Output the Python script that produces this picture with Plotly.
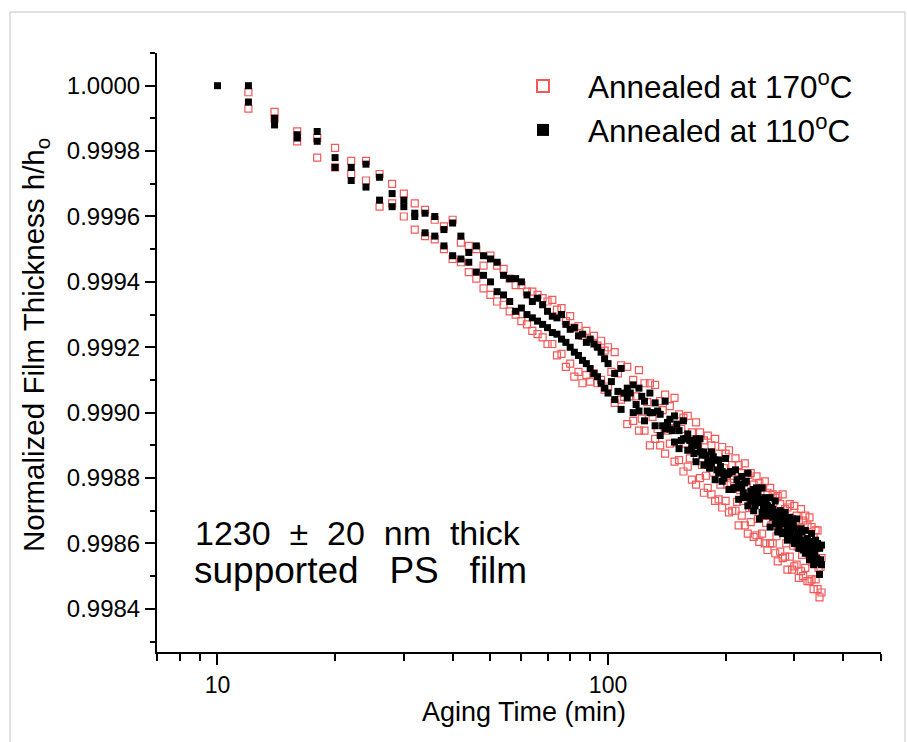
import plotly.graph_objects as go

# Aging times (min) at which the paired measurements were read
times = [12, 14, 16, 18, 20, 22, 24, 26, 28, 30, 32, 34, 36, 38, 40, 42, 44, 46, 48, 50,
         52, 54, 56, 58, 60, 62, 64, 66, 68, 70, 72, 74, 76, 78, 80, 82, 84, 86, 88, 90,
         92, 94, 96, 98, 100,
         104, 108, 112, 116, 120, 124, 128, 132, 136, 140, 144, 148, 152, 156, 160, 164,
         168, 172, 176, 180, 184, 188, 192, 196, 200, 204, 208, 212, 216, 220, 224, 228,
         232, 236, 240, 244, 248, 252, 256, 260, 264, 268, 272, 276, 280, 284, 288, 292,
         296, 300, 304, 308, 312, 316, 320, 324, 328, 332, 336, 340, 344, 348, 352]
# intermediate readings at later times
times_mid = [102, 106, 110, 114, 118, 122, 126, 130, 134, 138, 142, 146, 150, 154, 158, 162,
             166, 170, 174, 178, 182, 186, 190, 194, 198, 202, 206, 210, 214, 218, 222, 226,
             230, 234, 238, 242, 246, 250, 254, 258, 262, 266, 270, 274, 278, 282, 286, 290,
             294, 298, 302, 306, 310, 314, 318, 322, 326, 330, 334, 338, 342, 346, 350]

# Annealed at 170 C (open red squares)
red_hi = [0.999980, 0.999920, 0.999860, 0.999840, 0.999810, 0.999770, 0.999770, 0.999730, 0.999700, 0.999670,
          0.999640, 0.999620, 0.999590, 0.999570, 0.999590, 0.999520, 0.999510, 0.999500, 0.999450, 0.999480,
          0.999450, 0.999440, 0.999410, 0.999390, 0.999390, 0.999370, 0.999370, 0.999360, 0.999350, 0.999340,
          0.999345, 0.999315, 0.999320, 0.999280, 0.999295, 0.999260, 0.999265, 0.999235, 0.999250, 0.999220,
          0.999235, 0.999205, 0.999220, 0.999190, 0.999200,
          0.999185, 0.999145, 0.999140, 0.999100, 0.999130, 0.999090, 0.999090, 0.999085, 0.999035, 0.999055,
          0.999020, 0.999045, 0.998995, 0.998985, 0.998990, 0.998940, 0.998970, 0.998940, 0.998915, 0.998930,
          0.998900, 0.998920, 0.998875, 0.998895, 0.998875, 0.998885, 0.998840, 0.998860, 0.998840, 0.998815,
          0.998845, 0.998810, 0.998815, 0.998780, 0.998805, 0.998785, 0.998770, 0.998790, 0.998755, 0.998770,
          0.998750, 0.998740, 0.998745, 0.998720, 0.998750, 0.998705, 0.998710, 0.998720, 0.998675, 0.998715,
          0.998685, 0.998670, 0.998705, 0.998670, 0.998685, 0.998655, 0.998680, 0.998650, 0.998620, 0.998640,
          0.998640, 0.998590, 0.998555]
red_lo = [0.999930, 0.999900, 0.999830, 0.999780, 0.999750, 0.999730, 0.999710, 0.999630, 0.999640, 0.999600,
          0.999560, 0.999540, 0.999530, 0.999500, 0.999470, 0.999460, 0.999430, 0.999410, 0.999380, 0.999360,
          0.999340, 0.999330, 0.999310, 0.999300, 0.999280, 0.999270, 0.999250, 0.999240, 0.999230, 0.999210,
          0.999210, 0.999175, 0.999180, 0.999140, 0.999150, 0.999110, 0.999125, 0.999090, 0.999115, 0.999095,
          0.999120, 0.999090, 0.999100, 0.999070, 0.999080,
          0.999030, 0.999040, 0.998965, 0.998975, 0.998945, 0.998945, 0.998900, 0.998920, 0.998900, 0.998875,
          0.998905, 0.998850, 0.998855, 0.998820, 0.998835, 0.998795, 0.998780, 0.998800, 0.998755, 0.998770,
          0.998750, 0.998730, 0.998735, 0.998710, 0.998730, 0.998695, 0.998700, 0.998700, 0.998655, 0.998685,
          0.998655, 0.998630, 0.998665, 0.998620, 0.998625, 0.998605, 0.998630, 0.998600, 0.998580, 0.998600,
          0.998600, 0.998570, 0.998545, 0.998575, 0.998555, 0.998560, 0.998520, 0.998560, 0.998520, 0.998530,
          0.998535, 0.998495, 0.998515, 0.998500, 0.998525, 0.998485, 0.998485, 0.998490, 0.998460, 0.998490,
          0.998460, 0.998435, 0.998450]
red_mid = [0.999125, 0.999120, 0.999048, 0.999050, 0.999050, 0.998982, 0.999032, 0.998987, 0.998950, 0.999008,
           0.998945, 0.998953, 0.998908, 0.998950, 0.998905, 0.998860, 0.998890, 0.998895, 0.998840, 0.998807,
           0.998857, 0.998817, 0.998835, 0.998780, 0.998830, 0.998780, 0.998785, 0.998797, 0.998727, 0.998763,
           0.998730, 0.998773, 0.998708, 0.998712, 0.998725, 0.998675, 0.998730, 0.998690, 0.998663, 0.998695,
           0.998655, 0.998695, 0.998622, 0.998658, 0.998637, 0.998662, 0.998600, 0.998640, 0.998620, 0.998593,
           0.998648, 0.998590, 0.998608, 0.998565, 0.998612, 0.998582, 0.998570, 0.998605, 0.998543, 0.998575,
           0.998550, 0.998525, 0.998528]

# Annealed at 110 C (filled black squares)
black_first_t = [10]
black_first_v = [1.000000]
black_hi = [1.000000, 0.999900, 0.999850, 0.999860, 0.999780, 0.999750, 0.999760, 0.999720, 0.999670, 0.999650,
            0.999610, 0.999610, 0.999600, 0.999560, 0.999580, 0.999540, 0.999490, 0.999510, 0.999480, 0.999470,
            0.999460, 0.999420, 0.999410, 0.999410, 0.999400, 0.999360, 0.999340, 0.999350, 0.999330, 0.999310,
            0.999295, 0.999290, 0.999300, 0.999270, 0.999255, 0.999260, 0.999235, 0.999240, 0.999215, 0.999225,
            0.999210, 0.999200, 0.999185, 0.999165, 0.999150,
            0.999120, 0.999135, 0.999075, 0.999085, 0.999075, 0.999035, 0.999060, 0.999030, 0.998995, 0.999035,
            0.998980, 0.998990, 0.998945, 0.998975, 0.998935, 0.998905, 0.998920, 0.998920, 0.998880, 0.998855,
            0.998880, 0.998855, 0.998855, 0.998820, 0.998860, 0.998815, 0.998820, 0.998825, 0.998780, 0.998805,
            0.998785, 0.998815, 0.998760, 0.998765, 0.998770, 0.998735, 0.998770, 0.998740, 0.998715, 0.998740,
            0.998705, 0.998730, 0.998675, 0.998700, 0.998685, 0.998695, 0.998655, 0.998680, 0.998660, 0.998645,
            0.998675, 0.998630, 0.998645, 0.998610, 0.998640, 0.998615, 0.998605, 0.998630, 0.998590, 0.998610,
            0.998600, 0.998585, 0.998595]
black_lo = [0.999950, 0.999880, 0.999840, 0.999830, 0.999750, 0.999710, 0.999690, 0.999650, 0.999630, 0.999630,
            0.999600, 0.999550, 0.999540, 0.999510, 0.999480, 0.999470, 0.999460, 0.999430, 0.999420, 0.999400,
            0.999370, 0.999360, 0.999340, 0.999310, 0.999320, 0.999300, 0.999290, 0.999280, 0.999270, 0.999260,
            0.999245, 0.999240, 0.999225, 0.999215, 0.999200, 0.999185, 0.999175, 0.999160, 0.999150, 0.999135,
            0.999120, 0.999110, 0.999090, 0.999075, 0.999060,
            0.999040, 0.999010, 0.999045, 0.999000, 0.999005, 0.998975, 0.999000, 0.998960, 0.998930, 0.998950,
            0.998950, 0.998910, 0.998890, 0.998920, 0.998885, 0.998890, 0.998850, 0.998880, 0.998840, 0.998840,
            0.998845, 0.998795, 0.998815, 0.998790, 0.998815, 0.998765, 0.998765, 0.998770, 0.998735, 0.998770,
            0.998740, 0.998715, 0.998730, 0.998700, 0.998730, 0.998675, 0.998695, 0.998685, 0.998695, 0.998650,
            0.998680, 0.998660, 0.998635, 0.998675, 0.998630, 0.998635, 0.998610, 0.998635, 0.998615, 0.998600,
            0.998620, 0.998585, 0.998600, 0.998580, 0.998570, 0.998575, 0.998550, 0.998580, 0.998535, 0.998540,
            0.998550, 0.998505, 0.998535]
black_mid = [0.999095, 0.999065, 0.999060, 0.999060, 0.999025, 0.999050, 0.999005, 0.999000, 0.999005, 0.998960,
             0.998970, 0.998945, 0.998965, 0.998915, 0.998920, 0.998915, 0.998875, 0.998900, 0.998870, 0.998870,
             0.998830, 0.998865, 0.998825, 0.998835, 0.998800, 0.998810, 0.998820, 0.998770, 0.998795, 0.998775,
             0.998755, 0.998790, 0.998745, 0.998750, 0.998715, 0.998750, 0.998725, 0.998710, 0.998730, 0.998685,
             0.998710, 0.998685, 0.998695, 0.998650, 0.998660, 0.998680, 0.998665, 0.998630, 0.998640, 0.998660,
             0.998615, 0.998625, 0.998610, 0.998635, 0.998585, 0.998595, 0.998605, 0.998565, 0.998590, 0.998575,
             0.998555, 0.998590, 0.998550]

y_ticks = [0.9984, 0.9986, 0.9988, 0.9990, 0.9992, 0.9994, 0.9996, 0.9998, 1.0000]
y_minor = [0.9983, 0.9985, 0.9987, 0.9989, 0.9991, 0.9993, 0.9995, 0.9997, 0.9999, 1.0001]
x_ticks = [10, 100]
x_minor = [7, 8, 9, 20, 30, 40, 50, 60, 70, 80, 90, 200, 300, 400, 500]

FONT = "Liberation Sans, Arial, sans-serif"

fig = go.Figure()
fig.add_trace(go.Scatter(
    x=times + times + times_mid, y=red_hi + red_lo + red_mid, mode="markers",
    name="Annealed at 170<sup>o</sup>C",
    marker=dict(symbol="square-open", size=7, color="#f25a5a", line=dict(width=1.2, color="#f25a5a")),
))
fig.add_trace(go.Scatter(
    x=black_first_t + times + times + times_mid,
    y=black_first_v + black_hi + black_lo + black_mid, mode="markers",
    name="Annealed at 110<sup>o</sup>C",
    marker=dict(symbol="square", size=7, color="black", line=dict(width=0)),
))

PL, PR, PT, PB = 157, 881, 53, 652
def px(x):
    return (x - PL) / (PR - PL)
def py(y):
    return (PB - y) / (PB - PT)

fig.update_layout(
    width=907, height=742,
    margin=dict(l=PL, r=907 - PR, t=PT, b=742 - PB),
    paper_bgcolor="white", plot_bgcolor="white",
    font=dict(family=FONT, color="black"),
    showlegend=True,
    legend=dict(x=px(498), y=py(59), xanchor="left", yanchor="top",
                font=dict(size=31.5, family=FONT), bgcolor="rgba(0,0,0,0)",
                itemsizing="constant", itemwidth=80),
    xaxis=dict(type="log", range=[0.845098, 2.69897],
               tickmode="array", tickvals=x_ticks, ticktext=["10", "100"],
               ticks="outside", ticklen=11, tickwidth=2, tickcolor="black",
               showline=True, linewidth=2, linecolor="black",
               showgrid=False, zeroline=False,
               tickfont=dict(size=23, family=FONT),
               minor=dict(tickvals=x_minor, ticks="outside", ticklen=7, tickwidth=2,
                          tickcolor="black", showgrid=False)),
    yaxis=dict(range=[0.998268, 1.0001],
               tickmode="array", tickvals=y_ticks, ticktext=[f"{v:.4f}" for v in y_ticks],
               ticks="outside", ticklen=10, tickwidth=2, tickcolor="black",
               showline=True, linewidth=2, linecolor="black",
               showgrid=False, zeroline=False,
               tickfont=dict(size=24, family=FONT),
               minor=dict(tickvals=y_minor, ticks="outside", ticklen=5, tickwidth=2,
                          tickcolor="black", showgrid=False)),
    shapes=[dict(type="rect", xref="paper", yref="paper",
                 x0=px(10), x1=px(905), y0=py(780), y1=py(12),
                 line=dict(color="#c4c4c4", width=1), fillcolor="rgba(0,0,0,0)", layer="below")],
    annotations=[
        dict(text="Aging Time (min)", xref="paper", yref="paper", x=px(524), y=py(712),
             xanchor="center", yanchor="middle", showarrow=False, font=dict(size=27, family=FONT)),
        dict(text="Normalized Film Thickness h/h<sub>o</sub>", xref="paper", yref="paper",
             x=px(35), y=py(345), xanchor="center", yanchor="middle", textangle=-90,
             showarrow=False, font=dict(size=29.5, family=FONT)),
        dict(text="1230\u00a0\u00a0±\u00a0\u00a020\u00a0\u00a0nm\u00a0\u00a0thick", xref="paper", yref="paper",
             x=px(193), y=py(533), xanchor="left", yanchor="middle", showarrow=False,
             font=dict(size=34, family=FONT)),
        dict(text="supported\u00a0\u00a0\u00a0PS\u00a0\u00a0\u00a0film", xref="paper", yref="paper",
             x=px(192), y=py(570), xanchor="left", yanchor="middle", showarrow=False,
             font=dict(size=37, family=FONT)),
    ],
)

fig.write_html("out.html")
